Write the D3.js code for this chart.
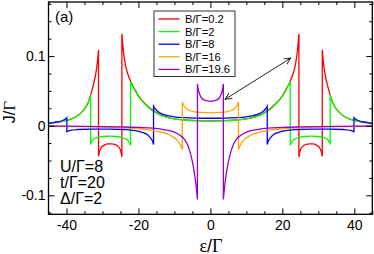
<!DOCTYPE html>
<html>
<head>
    <meta charset="utf-8">
    <title>Josephson current vs level energy</title>
    <script src="https://d3js.org/d3.v7.min.js"></script>
    <style>
        body { margin: 0; background: #fff; }
        text { font-family: "Liberation Sans", Arial, sans-serif; fill: #000; }
        .greek { font-family: "Liberation Serif", "Times New Roman", serif; }
    </style>
</head>
<body>
    <div id="chart"></div>
    <script>
// each series is a list of smooth pieces [eps, J]; consecutive pieces are joined by a vertical jump
const red = [
    [[-45,0.004],[-42,0.0055],[-40,0.0075],[-38,0.011],[-36,0.018],[-35,0.024],[-34,0.033],[-33.3,0.044],[-32.6,0.057],[-32,0.071],[-31.5,0.087],[-31.1,0.109]],
    [[-31.1,-0.044],[-30.8,-0.037],[-30.3,-0.031],[-29.5,-0.028],[-28.5,-0.026],[-27.5,-0.026],[-26.5,-0.027],[-25.6,-0.030],[-25,-0.035],[-24.6,-0.045]],
    [[-24.6,0.132],[-24.2,0.108],[-23.6,0.087],[-23,0.075],[-22.2,0.064],[-21,0.052],[-20,0.043],[-18,0.031],[-16,0.022],[-14,0.016],[-12,0.012],[-10,0.0098],[-7,0.0082],[-4,0.0072],[0,0.0068],
     [4,0.0072],[7,0.0082],[10,0.0098],[12,0.012],[14,0.016],[16,0.022],[18,0.031],[20,0.043],[21,0.052],[22.2,0.064],[23,0.075],[23.6,0.087],[24.2,0.108],[24.6,0.132]],
    [[24.6,-0.045],[25,-0.035],[25.6,-0.030],[26.5,-0.027],[27.5,-0.026],[28.5,-0.026],[29.5,-0.028],[30.3,-0.031],[30.8,-0.037],[31.1,-0.044]],
    [[31.1,0.109],[31.5,0.087],[32,0.071],[32.6,0.057],[33.3,0.044],[34,0.033],[35,0.024],[36,0.018],[38,0.011],[40,0.0075],[42,0.0055],[45,0.004]]
];

const green = [
    [[-45,0.004],[-42,0.0055],[-40,0.0075],[-38,0.011],[-36,0.018],[-35,0.024],[-34,0.033],[-33.3,0.044]],
    [[-33.3,-0.027],[-32.8,-0.021],[-32,-0.018],[-30,-0.0155],[-28,-0.015],[-26,-0.0155],[-24,-0.018],[-23,-0.021],[-22.2,-0.028]],
    [[-22.2,0.063],[-21,0.051],[-20,0.042],[-18,0.030],[-16,0.021],[-14,0.0155],[-12,0.0118],[-10,0.0097],[-7,0.0082],[-4,0.0072],[0,0.0068],
     [4,0.0072],[7,0.0082],[10,0.0097],[12,0.0118],[14,0.0155],[16,0.021],[18,0.030],[20,0.042],[21,0.051],[22.2,0.063]],
    [[22.2,-0.028],[23,-0.021],[24,-0.018],[26,-0.0155],[28,-0.015],[30,-0.0155],[32,-0.018],[32.8,-0.021],[33.3,-0.027]],
    [[33.3,0.044],[34,0.033],[35,0.024],[36,0.018],[38,0.011],[40,0.0075],[42,0.0055],[45,0.004]]
];

const blue = [
    [[-45,0.003],[-43.5,0.0045],[-42,0.006],[-41,0.0078],[-40.3,0.0095],[-39.9,0.0115]],
    [[-39.9,-0.0086],[-39,-0.0068],[-37,-0.0055],[-33,-0.0048],[-28,-0.0048],[-24,-0.0055],[-21,-0.007],[-19,-0.0095],[-17.5,-0.013],[-16.6,-0.018],[-16.1,-0.022],[-15.8,-0.027]],
    [[-15.8,0.028],[-15.3,0.024],[-14.5,0.020],[-13.5,0.017],[-12,0.0145],[-10,0.0128],[-7,0.0116],[-4,0.011],[0,0.0107],
     [4,0.011],[7,0.0116],[10,0.0128],[12,0.0145],[13.5,0.017],[14.5,0.020],[15.3,0.024],[15.8,0.028]],
    [[15.8,-0.027],[16.1,-0.022],[16.6,-0.018],[17.5,-0.013],[19,-0.0095],[21,-0.007],[24,-0.0055],[28,-0.0048],[33,-0.0048],[37,-0.0055],[39,-0.0068],[39.9,-0.0086]],
    [[39.9,0.0115],[40.3,0.0095],[41,0.0078],[42,0.006],[43.5,0.0045],[45,0.003]]
];

const orange = [
    [[-45,-0.0008],[-38,-0.0012],[-30,-0.002],[-25,-0.003],[-20,-0.0045],[-17,-0.006],[-15,-0.0078],[-13,-0.0102],[-11.5,-0.013],[-10.5,-0.016],[-9.5,-0.0195],[-8.8,-0.024],[-8.2,-0.029],[-7.8,-0.0345]],
    [[-7.8,0.034],[-7.5,0.030],[-7,0.026],[-6,0.0225],[-4.5,0.020],[-2.5,0.019],[0,0.0185],[2.5,0.019],[4.5,0.020],[6,0.0225],[7,0.026],[7.5,0.030],[7.8,0.034]],
    [[7.8,-0.0345],[8.2,-0.029],[8.8,-0.024],[9.5,-0.0195],[10.5,-0.016],[11.5,-0.013],[13,-0.0102],[15,-0.0078],[17,-0.006],[20,-0.0045],[25,-0.003],[30,-0.002],[38,-0.0012],[45,-0.0008]]
];

const purple = [
    [[-45,-0.0005],[-35,-0.001],[-25,-0.0018],[-20,-0.0025],[-16,-0.0035],[-13,-0.0055],[-11,-0.0075],[-9.5,-0.0105],[-8.3,-0.0145],[-7.3,-0.019],[-6.5,-0.026],[-5.9,-0.034],[-5.4,-0.043],[-5,-0.052],[-4.6,-0.063],[-4.2,-0.077],[-3.9,-0.09],[-3.6,-0.106]],
    [[-3.6,0.060],[-3.4,0.053],[-3.1,0.047],[-2.6,0.041],[-1.8,0.037],[-0.8,0.0355],[0,0.035],[0.8,0.0355],[1.8,0.037],[2.6,0.041],[3.1,0.047],[3.4,0.053],[3.6,0.060]],
    [[3.6,-0.106],[3.9,-0.09],[4.2,-0.077],[4.6,-0.063],[5,-0.052],[5.4,-0.043],[5.9,-0.034],[6.5,-0.026],[7.3,-0.019],[8.3,-0.0145],[9.5,-0.0105],[11,-0.0075],[13,-0.0055],[16,-0.0035],[20,-0.0025],[25,-0.0018],[35,-0.001],[45,-0.0005]]
];

const seriesData = [red, green, blue, orange, purple];
const legendLabels = ['B/Γ=0.2', 'B/Γ=2', 'B/Γ=8', 'B/Γ=16', 'B/Γ=19.6'];
const colors = ['#ff0000', '#00ff00', '#0000ff', '#ffa500', '#9400d3'];

const xMajor = [-40, -20, 0, 20, 40];
const xMinor = [-45, -35, -30, -25, -15, -10, -5, 5, 10, 15, 25, 30, 35, 45];
const yMajor = [-0.1, 0, 0.1];
const yMinor = [-0.125, -0.075, -0.05, -0.025, 0.025, 0.05, 0.075, 0.125, 0.15, 0.175];
const paramLines = ['U/Γ=8', 't/Γ=20', 'Δ/Γ=2'];
const arrowEnds = [[4.1, 0.038], [22.3, 0.097]];

const width = 374;
const height = 254;
const plotL = 48.5, plotR = 372.3, plotT = 2, plotB = 214.3;

const svg = d3.select('#chart')
    .append('svg')
    .attr('width', width)
    .attr('height', height);

const x = d3.scaleLinear().domain([-45, 45]).range([plotL, plotR]);
const y = d3.scaleLinear().domain([-0.1273, 0.1777]).range([plotB, plotT]);

// clip curves to plot area
svg.append('clipPath').attr('id', 'clip')
    .append('rect')
    .attr('x', plotL).attr('y', plotT)
    .attr('width', plotR - plotL).attr('height', plotB - plotT);

const line = d3.line()
    .x(d => x(d[0]))
    .y(d => y(d[1]))
    .curve(d3.curveMonotoneX);

function seriesPath(pieces) {
    return pieces.map((p, i) => {
        const s = line(p);
        return i === 0 ? s : 'L' + s.slice(1);
    }).join('');
}

svg.append('g')
    .attr('clip-path', 'url(#clip)')
    .selectAll('path')
    .data(seriesData)
    .enter()
    .append('path')
    .attr('d', d => seriesPath(d))
    .attr('fill', 'none')
    .attr('stroke', (d, i) => colors[i])
    .attr('stroke-width', 1.3);

// axes, ticks inward on all four sides
function styleAxis(g) {
    g.select('.domain').remove();
    g.selectAll('.tick line').attr('stroke', '#000').attr('stroke-width', 1);
    g.selectAll('.tick text').style('font-size', '14px').attr('fill', '#000');
}

svg.append('g')
    .attr('transform', `translate(0,${plotB})`)
    .call(d3.axisBottom(x).tickValues(xMajor).tickSize(-6).tickPadding(6).tickFormat(d => String(d)))
    .call(styleAxis);
svg.append('g')
    .attr('transform', `translate(0,${plotB})`)
    .call(d3.axisBottom(x).tickValues(xMinor).tickSize(-3).tickFormat(''))
    .call(styleAxis);
svg.append('g')
    .attr('transform', `translate(0,${plotT})`)
    .call(d3.axisTop(x).tickValues(xMajor).tickSize(-6).tickFormat(''))
    .call(styleAxis);
svg.append('g')
    .attr('transform', `translate(0,${plotT})`)
    .call(d3.axisTop(x).tickValues(xMinor).tickSize(-3).tickFormat(''))
    .call(styleAxis);

svg.append('g')
    .attr('transform', `translate(${plotL},0)`)
    .call(d3.axisLeft(y).tickValues(yMajor).tickSize(-6).tickPadding(3).tickFormat(d => String(d)))
    .call(styleAxis);
svg.append('g')
    .attr('transform', `translate(${plotL},0)`)
    .call(d3.axisLeft(y).tickValues(yMinor).tickSize(-3).tickFormat(''))
    .call(styleAxis);
svg.append('g')
    .attr('transform', `translate(${plotR},0)`)
    .call(d3.axisRight(y).tickValues(yMajor).tickSize(-6).tickFormat(''))
    .call(styleAxis);
svg.append('g')
    .attr('transform', `translate(${plotR},0)`)
    .call(d3.axisRight(y).tickValues(yMinor).tickSize(-3).tickFormat(''))
    .call(styleAxis);

svg.append('rect')
    .attr('x', plotL).attr('y', plotT)
    .attr('width', plotR - plotL).attr('height', plotB - plotT)
    .attr('fill', 'none')
    .attr('stroke', '#000')
    .attr('stroke-width', 1.3);

// double headed arrow
const defs = svg.append('defs');
defs.append('marker')
    .attr('id', 'head')
    .attr('viewBox', '0 0 10 10')
    .attr('refX', 9).attr('refY', 5)
    .attr('markerWidth', 8).attr('markerHeight', 8)
    .attr('markerUnits', 'userSpaceOnUse')
    .attr('orient', 'auto-start-reverse')
    .append('path')
    .attr('d', 'M1,1 L9,5 L1,9')
    .attr('fill', 'none')
    .attr('stroke', '#222')
    .attr('stroke-width', 1.2);

svg.append('line')
    .attr('x1', x(arrowEnds[0][0])).attr('y1', y(arrowEnds[0][1]))
    .attr('x2', x(arrowEnds[1][0])).attr('y2', y(arrowEnds[1][1]))
    .attr('stroke', '#222')
    .attr('stroke-width', 1)
    .attr('marker-start', 'url(#head)')
    .attr('marker-end', 'url(#head)');

// legend
const legend = svg.append('g');
legend.append('rect')
    .attr('x', 154).attr('y', 11)
    .attr('width', 81).attr('height', 65.5)
    .attr('fill', '#fff')
    .attr('stroke', '#333')
    .attr('stroke-width', 1);
const rows = legend.selectAll('g.row')
    .data(legendLabels)
    .enter()
    .append('g')
    .attr('class', 'row')
    .attr('transform', (d, i) => `translate(0,${19 + i * 12.6})`);
rows.append('line')
    .attr('x1', 158.5).attr('x2', 179.5)
    .attr('stroke', (d, i) => colors[i])
    .attr('stroke-width', 1.3);
rows.append('text')
    .attr('x', 185)
    .attr('dy', '0.36em')
    .style('font-size', '11.2px')
    .text(d => d);

// labels
svg.append('text')
    .attr('x', 55).attr('y', 21.5)
    .style('font-size', '15px')
    .text('(a)');

svg.append('g')
    .selectAll('text')
    .data(paramLines)
    .enter()
    .append('text')
    .attr('x', 60)
    .attr('y', (d, i) => 171.5 + i * 16)
    .style('font-size', '16px')
    .text(d => d);

const xTitle = svg.append('text')
    .attr('x', 211).attr('y', 251.5)
    .attr('text-anchor', 'middle')
    .style('font-size', '18px');
xTitle.append('tspan').attr('class', 'greek').text('ε');
xTitle.append('tspan').text('/');
xTitle.append('tspan').attr('class', 'greek').text('Γ');

const yTitle = svg.append('text')
    .attr('transform', 'translate(15,112) rotate(-90)')
    .attr('text-anchor', 'middle')
    .style('font-size', '16px');
yTitle.append('tspan').text('J/');
yTitle.append('tspan').attr('class', 'greek').style('font-size', '17px').text('Γ');
    </script>
</body>
</html>
